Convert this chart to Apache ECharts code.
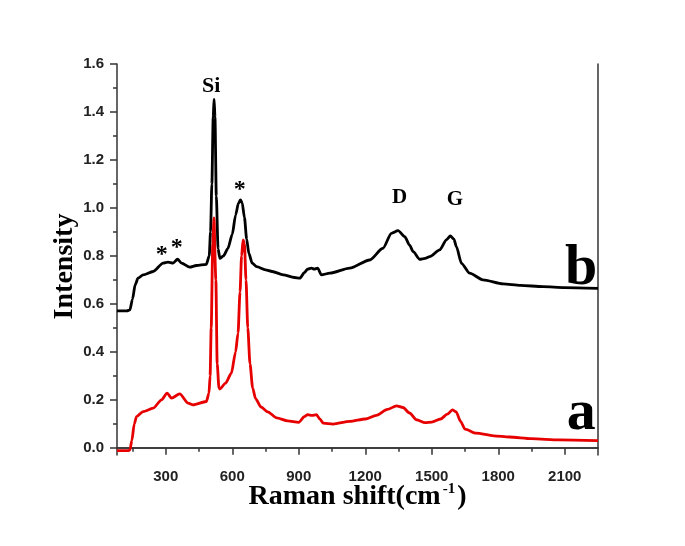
<!DOCTYPE html>
<html>
<head>
<meta charset="utf-8">
<script src="https://cdn.jsdelivr.net/npm/echarts@6/dist/echarts.min.js"></script>
<style>
  html, body { margin: 0; padding: 0; background: #fff; }
  #chart { width: 685px; height: 546px; }
</style>
</head>
<body>
<div id="chart"></div>
<script>
// curve b (black, offset)
const xB = [80, 125, 138, 150, 162, 175, 198, 243, 288, 310, 333, 353, 371, 408, 438, 483, 496, 502, 508, 514, 518, 522, 528, 536, 544, 560, 580, 600, 615, 628, 637, 645, 655, 665, 675, 690, 710, 750, 780, 830, 880, 905, 925, 940, 957, 970, 985, 1002, 1040, 1130, 1220, 1280, 1318, 1348, 1378, 1400, 1416, 1446, 1470, 1491, 1536, 1566, 1584, 1600, 1611, 1634, 1671, 1731, 1822, 1900, 2002, 2100, 2250];
const yB = [0.571, 0.571, 0.575, 0.62, 0.68, 0.707, 0.721, 0.735, 0.77, 0.774, 0.77, 0.786, 0.77, 0.753, 0.76, 0.765, 0.8, 0.9, 1.1, 1.38, 1.453, 1.38, 1.05, 0.83, 0.79, 0.8, 0.83, 0.89, 0.97, 1.02, 1.033, 1.02, 0.96, 0.87, 0.81, 0.77, 0.755, 0.742, 0.735, 0.721, 0.71, 0.707, 0.73, 0.745, 0.749, 0.745, 0.749, 0.721, 0.728, 0.749, 0.783, 0.832, 0.894, 0.905, 0.88, 0.845, 0.818, 0.786, 0.79, 0.797, 0.825, 0.867, 0.883, 0.87, 0.839, 0.769, 0.728, 0.7, 0.683, 0.677, 0.672, 0.668, 0.665];

// curve a (red)
const xA = [80, 130, 138, 147, 158, 168, 198, 243, 281, 306, 326, 363, 401, 423, 483, 495, 500, 505, 512, 518, 521, 526, 532, 540, 544, 570, 596, 615, 626, 635, 642, 649, 655, 662, 670, 680, 692, 705, 730, 760, 800, 850, 900, 925, 940, 960, 980, 995, 1010, 1055, 1130, 1200, 1250, 1300, 1341, 1370, 1400, 1431, 1470, 1500, 1540, 1570, 1593, 1610, 1630, 1650, 1700, 1780, 1850, 1950, 2077, 2250];
const yA = [-0.012, -0.012, -0.01, 0.03, 0.1, 0.13, 0.151, 0.165, 0.2, 0.228, 0.207, 0.225, 0.186, 0.179, 0.193, 0.228, 0.3, 0.5, 0.85, 0.958, 0.958, 0.7, 0.35, 0.25, 0.245, 0.27, 0.311, 0.4, 0.478, 0.65, 0.8, 0.867, 0.85, 0.7, 0.5, 0.35, 0.25, 0.205, 0.17, 0.15, 0.125, 0.112, 0.106, 0.13, 0.138, 0.135, 0.138, 0.12, 0.103, 0.099, 0.11, 0.12, 0.135, 0.16, 0.175, 0.168, 0.145, 0.117, 0.105, 0.107, 0.12, 0.14, 0.158, 0.15, 0.11, 0.078, 0.061, 0.05, 0.045, 0.038, 0.033, 0.03];

// axis ticks
const xTicks = [300, 600, 900, 1200, 1500, 1800, 2100];
const xMinor = [150, 450, 750, 1050, 1350, 1650, 1950];
const yTicks = [0, 0.2, 0.4, 0.6, 0.8, 1.0, 1.2, 1.4, 1.6];
const yMinor = [0.1, 0.3, 0.5, 0.7, 0.9, 1.1, 1.3, 1.5];

// peak notes: text, x, y, font size
const notes = [
  ['Si', 505, 1.506, 22],
  ['*', 634, 1.075, 24],
  ['*', 282, 0.804, 24],
  ['*', 350, 0.833, 24],
  ['D', 1355, 1.044, 21],
  ['G', 1604, 1.035, 21],
  ['b', 2174, 0.746, 58],
  ['a', 2174, 0.142, 58]
];

const axisCol = '#333';
const serif = '"Liberation Serif", "DejaVu Serif", serif';
const sans = '"Liberation Sans", Arial, sans-serif';

const chart = echarts.init(document.getElementById('chart'));

const hideAll = {
  axisLabel: { show: false },
  axisTick: { show: false },
  splitLine: { show: false }
};

const option = {
  animation: false,
  backgroundColor: '#fff',
  grid: { left: 117, right: 87, top: 64, bottom: 91 },
  xAxis: [
    {
      type: 'value', min: 80, max: 2250, position: 'bottom',
      axisLine: { lineStyle: { color: axisCol, width: 1.5 } },
      axisTick: { customValues: xTicks, length: 7, lineStyle: { color: axisCol, width: 1.5 } },
      axisLabel: {
        customValues: xTicks, margin: 14, color: '#222', fontFamily: sans, fontWeight: 'bold', fontSize: 15,
        formatter: v => String(v)
      },
      splitLine: { show: false },
      name: '{n|Raman shift(cm}{s|-1}{n|)}',
      nameLocation: 'middle', nameGap: 27, nameMoveOverlap: false,
      nameTextStyle: {
        rich: {
          n: { fontFamily: serif, fontWeight: 'bold', fontSize: 28, color: '#000', lineHeight: 30 },
          s: { fontFamily: serif, fontWeight: 'bold', fontSize: 15, color: '#000', verticalAlign: 'top', lineHeight: 30, padding: [0, 2, 8, 2] }
        }
      }
    },
    {
      type: 'value', min: 80, max: 2250, position: 'bottom',
      axisLine: { show: false },
      axisTick: { customValues: xMinor, length: 4, lineStyle: { color: axisCol, width: 1.5 } },
      axisLabel: { show: false },
      splitLine: { show: false }
    },
    Object.assign({ type: 'value', min: 80, max: 2250, position: 'top',
      axisLine: { lineStyle: { color: axisCol, width: 1.5 } } }, hideAll)
  ],
  yAxis: [
    {
      type: 'value', min: -0.03, max: 1.6, position: 'left',
      axisLine: { lineStyle: { color: axisCol, width: 1.5 } },
      axisTick: { customValues: yTicks, length: 7, lineStyle: { color: axisCol, width: 1.5 } },
      axisLabel: {
        customValues: yTicks, margin: 13, color: '#222', fontFamily: sans, fontWeight: 'bold', fontSize: 15,
        formatter: v => v.toFixed(1)
      },
      splitLine: { show: false },
      name: 'Intensity',
      nameLocation: 'middle', nameGap: 38, nameMoveOverlap: false,
      nameTextStyle: { fontFamily: serif, fontWeight: 'bold', fontSize: 28, color: '#000', padding: [0, 14, 0, 0] }
    },
    {
      type: 'value', min: -0.03, max: 1.6, position: 'left',
      axisLine: { show: false },
      axisTick: { customValues: yMinor, length: 4, lineStyle: { color: axisCol, width: 1.5 } },
      axisLabel: { show: false },
      splitLine: { show: false }
    },
    Object.assign({ type: 'value', min: -0.03, max: 1.6, position: 'right',
      axisLine: { lineStyle: { color: axisCol, width: 1.5 } } }, hideAll)
  ],
  series: [
    {
      name: 'b', type: 'line', xAxisIndex: 0, yAxisIndex: 0,
      data: xB.map((x, i) => [x, yB[i]]),
      showSymbol: false, smooth: 0.25, smoothMonotone: 'x',
      lineStyle: { color: '#000', width: 2.8 }
    },
    {
      name: 'a', type: 'line', xAxisIndex: 0, yAxisIndex: 0,
      data: xA.map((x, i) => [x, yA[i]]),
      showSymbol: false, smooth: 0.25, smoothMonotone: 'x',
      lineStyle: { color: '#e60000', width: 2.8 },
      z: 3
    },
    {
      name: 'notes', type: 'scatter', xAxisIndex: 0, yAxisIndex: 0,
      symbolSize: 0, itemStyle: { color: '#000', opacity: 1 },
      emphasis: { disabled: true },
      data: notes.map(n => ({
        value: [n[1], n[2]],
        label: {
          show: true, position: 'inside', formatter: n[0],
          fontFamily: serif, fontWeight: 'bold', fontSize: n[3], color: '#000', opacity: 1
        }
      })),
      z: 5
    }
  ]
};

chart.setOption(option);
</script>
</body>
</html>
